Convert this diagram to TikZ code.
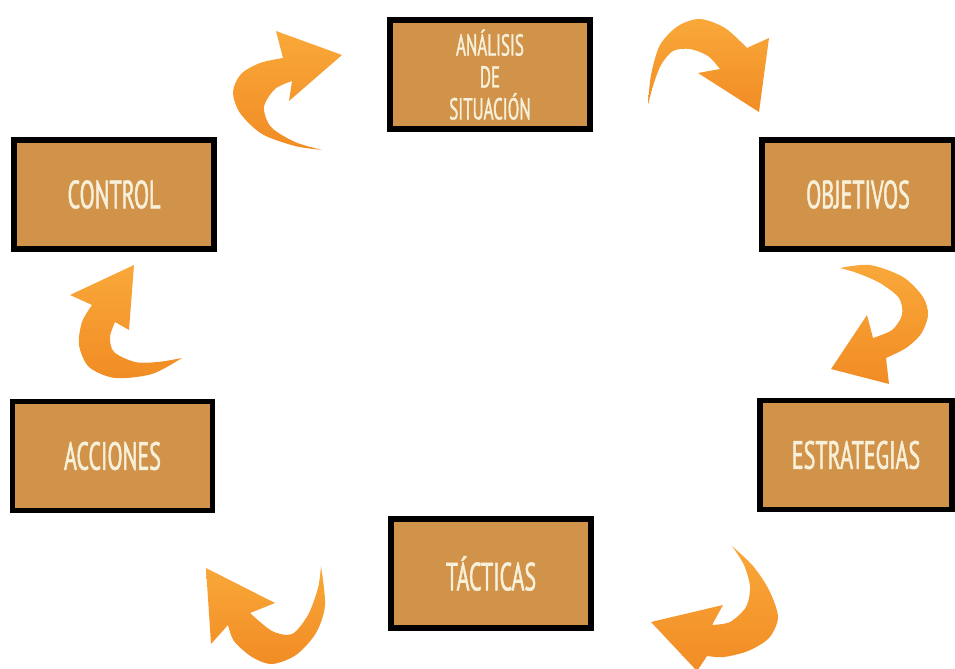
\documentclass[tikz,border=0pt]{standalone}
\usepackage{fontspec}
\usepackage{tikz}
\usepackage{xcolor}
\usetikzlibrary{positioning}
\newfontfamily\stagefont{PT Sans}[FakeStretch=0.56, FakeBold=1.2]
\definecolor{stageFill}{RGB}{209,147,73}
\definecolor{stageText}{RGB}{247,240,218}
\definecolor{arrowLight}{RGB}{249,168,58}
\definecolor{arrowDeep}{RGB}{241,140,36}
\tikzset{
  stage/.style={draw=black, line width=4.2pt, fill=stageFill, text=stageText, align=center, inner sep=0pt, minimum width=5cm, minimum height=2.725cm, font=\stagefont\fontsize{28}{30}\selectfont},
  narrowstage/.style={stage, minimum width=4.8cm},
  bendarrow/.style={top color=arrowLight, bottom color=arrowDeep, draw=none},
  smallfont/.style={font=\stagefont\fontsize{21.5}{22.7}\selectfont}
}

\begin{document}
\begin{tikzpicture}[x=0.025cm, y=-0.025cm]
  \useasboundingbox (0,0) rectangle (955,669);

  % stages of the cycle
  \node[stage, smallfont] (anal) at (490,74.5) {ANÁLISIS\\DE\\SITUACIÓN};
  \node[narrowstage] (obj) at (858,194.5) {OBJETIVOS};
  \node[narrowstage] (estr) at (856,455) {ESTRATEGIAS};
  \node[stage] (tact) at (491,573.5) {TÁCTICAS};
  \node[stage] (acc) at (112.5,456) {ACCIONES};
  \node[stage] (ctrl) at (114,194.5) {CONTROL};

  % curved arrows between the stages
  \path[bendarrow] plot[smooth] coordinates {(322,150) (295,146) (262,134) (240,113) (233,92) (241,74) (260,63) (283,58)}
    -- (276,31) -- (342,55) -- (289,101) -- (292,81)
    -- plot[smooth] coordinates {(292,81) (275,89) (264,107) (271,127) (295,142) (322,150)} -- cycle;
  \path[bendarrow] plot[smooth] coordinates {(648,105) (651,75) (660,45) (678,26) (700,19) (725,28) (747,48)}
    -- (769,38) -- (759,112) -- (698,73) -- (720,69)
    -- plot[smooth] coordinates {(720,69) (708,56) (690,49) (673,51) (661,65) (653,86) (648,105)} -- cycle;
  \path[bendarrow] plot[smooth] coordinates {(840,268) (870,265) (903,277) (923,297) (928,315) (921,334) (906,348) (886,358)}
    -- (889,384) -- (831,369) -- (867,315) -- (873,338)
    -- plot[smooth] coordinates {(873,338) (892,330) (902,315) (899,298) (880,283) (857,273) (840,268)} -- cycle;
  \path[bendarrow] plot[smooth] coordinates {(732,546) (753,566) (769,590) (778,617) (769,638) (748,651) (724,657) (707,656)}
    -- (697,671) -- (651,622) -- (723,605) -- (712,625)
    -- plot[smooth] coordinates {(712,625) (730,622) (746,607) (750,587) (744,565) (732,546)} -- cycle;
  \path[bendarrow] plot[smooth] coordinates {(321,566) (325,605) (316,633) (296,655) (272,664) (252,657) (234,641) (228,625)}
    -- (211,644) -- (206,568) -- (275,603) -- (250,613)
    -- plot[smooth] coordinates {(250,613) (272,631) (292,634) (308,615) (318,588) (321,566)} -- cycle;
  \path[bendarrow] plot[smooth] coordinates {(182,358) (152,374) (115,378) (89,367) (79,345) (82,322) (92,305)}
    -- (70,295) -- (134,265) -- (129,330) -- (115,322)
    -- plot[smooth] coordinates {(115,322) (110,337) (114,352) (135,362) (158,362) (182,358)} -- cycle;
\end{tikzpicture}
\end{document}
